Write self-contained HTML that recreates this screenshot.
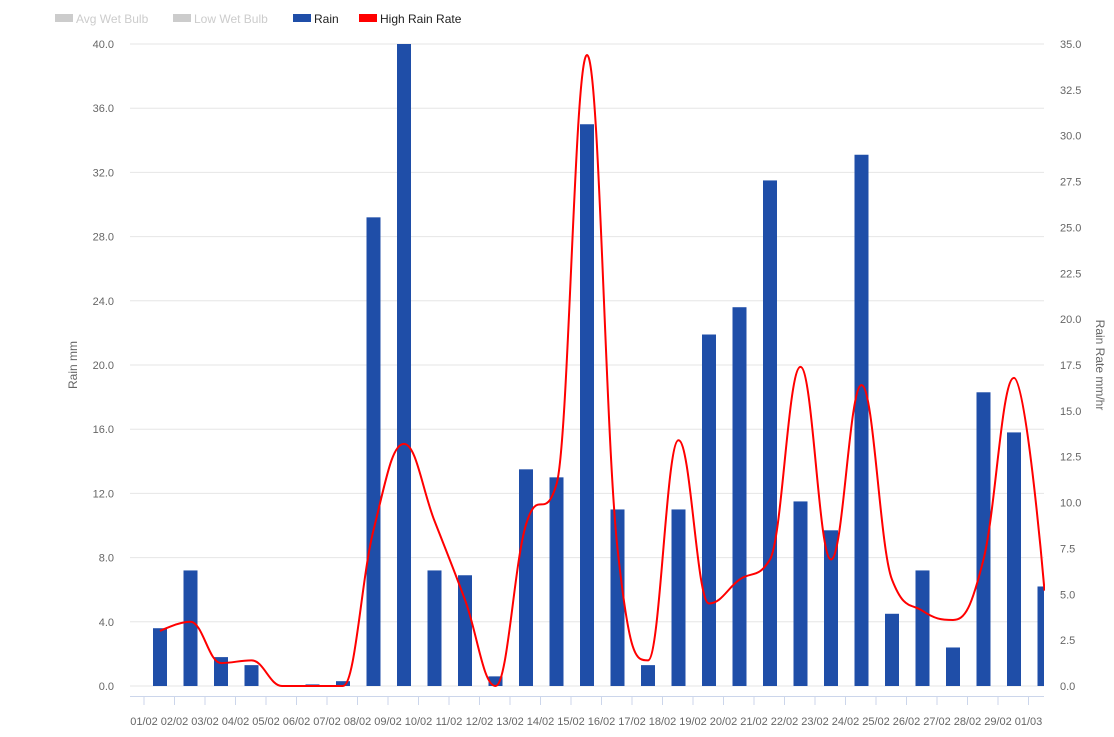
<!DOCTYPE html>
<html><head><meta charset="utf-8"><style>
body{margin:0;background:#fff;font-family:"Liberation Sans",sans-serif}
svg text{font-family:"Liberation Sans",sans-serif}
</style></head><body>
<svg id="c" width="1114" height="732" xmlns="http://www.w3.org/2000/svg">
<g font-size="12">
<g><rect x="55" y="14" width="18" height="8" fill="#ccc"/><text x="76" y="23" fill="#ccc">Avg Wet Bulb</text></g>
<g><rect x="173" y="14" width="18" height="8" fill="#ccc"/><text x="194" y="23" fill="#ccc">Low Wet Bulb</text></g>
<g><rect x="293" y="14" width="18" height="8" fill="#1f4ea8"/><text x="314" y="23" fill="#222">Rain</text></g>
<g><rect x="359" y="14" width="18" height="8" fill="#ff0000"/><text x="380" y="23" fill="#222">High Rain Rate</text></g>
</g>
<g id="grid"></g><g id="bars"></g><g id="line"></g><g id="axes"></g>
<text transform="translate(77,365) rotate(-90)" text-anchor="middle" font-size="12" fill="#666">Rain mm</text>
<text transform="translate(1096,365) rotate(90)" text-anchor="middle" font-size="12" fill="#666">Rain Rate mm/hr</text>
</svg>
<script>
const categories=["01/02","02/02","03/02","04/02","05/02","06/02","07/02","08/02","09/02","10/02","11/02","12/02","13/02","14/02","15/02","16/02","17/02","18/02","19/02","20/02","21/02","22/02","23/02","24/02","25/02","26/02","27/02","28/02","29/02","01/03"];
const rain=[3.6,7.2,1.8,1.3,0,0.1,0.3,29.2,40.0,7.2,6.9,0.6,13.5,13.0,35.0,11.0,1.3,11.0,21.9,23.6,31.5,11.5,9.7,33.1,4.5,7.2,2.4,18.3,15.8,6.2];
const rainRate=[3.0,3.5,1.25,1.4,0,0,0,8.5,13.2,9.0,4.7,0,8.8,11.0,34.4,7.5,1.4,13.4,4.5,5.8,6.9,17.4,6.9,16.4,5.8,4.1,3.6,6.9,16.8,5.2];
const leftTicks=[0,4,8,12,16,20,24,28,32,36,40];
const rightTicks=[0,2.5,5,7.5,10,12.5,15,17.5,20,22.5,25,27.5,30,32.5,35];
const NS="http://www.w3.org/2000/svg";
const X0=130,X1=1044,Y0=686,Y1=44,step=30.5;
const yL=v=>Y0-(v/40)*(Y0-Y1);
const yR=v=>Y0-(v/35)*(Y0-Y1);
const xBar=i=>160+i*step;
const xTick=i=>144+i*step;
function mk(t,a,p){const e=document.createElementNS(NS,t);for(const k in a)e.setAttribute(k,a[k]);p.appendChild(e);return e;}
const grid=document.getElementById('grid'),axes=document.getElementById('axes');
leftTicks.forEach(v=>{
 const l=mk('line',{x1:X0,x2:X1,y1:yL(v),y2:yL(v),stroke:'#e6e6e6'},grid);
 
 
 const t=mk('text',{x:114,y:yL(v)+4,'text-anchor':'end','font-size':11,fill:'#666'},axes);
 t.textContent=v.toFixed(1);
 
 
});
rightTicks.forEach(v=>{
 const t=mk('text',{x:1060,y:yR(v)+4,'font-size':11,fill:'#666'},axes);
 t.textContent=v.toFixed(1);
 
 
});
const ax=mk('line',{x1:X0,x2:X1,y1:696.5,y2:696.5,stroke:'#ccd6eb'},axes);


categories.forEach((c,i)=>{
 const tk=mk('line',{x1:xTick(i),x2:xTick(i),y1:697,y2:705,stroke:'#ccd6eb'},axes);
 
 
 const t=mk('text',{x:xTick(i),y:725,'text-anchor':'middle','font-size':11,fill:'#666'},axes);
 t.textContent=c;
 
 
});
const bars=document.getElementById('bars');
rain.forEach((v,i)=>{
 const x=xBar(i)-7,w=Math.min(14,X1-x);
 if(w<=0)return;
 const r=mk('rect',{x:x,y:yL(v),width:w,height:Y0-yL(v),fill:'#1f4ea8'},bars);
 
 
});
// Highcharts-like spline
const pts=rainRate.map((v,i)=>[xBar(i),yR(v)]);
let d='M'+pts[0][0]+','+pts[0][1];
const sm=1.5,den=sm+1;
function ctrl(i){
 const p=pts[i],a=pts[i-1],b=pts[i+1];
 if(!a||!b)return [p,p];
 let lx=(sm*p[0]+a[0])/den,ly=(sm*p[1]+a[1])/den,rx=(sm*p[0]+b[0])/den,ry=(sm*p[1]+b[1])/den;
 if(rx!==lx){const c=(ry-ly)/(rx-lx);ly=(lx-p[0])*c+p[1];ry=(rx-p[0])*c+p[1];}
 if(ly>Math.max(a[1],p[1])||ly<Math.min(a[1],p[1])){ly=Math.max(Math.min(ly,Math.max(a[1],p[1])),Math.min(a[1],p[1]));ry=2*p[1]-ly;}
 if(ry>Math.max(b[1],p[1])||ry<Math.min(b[1],p[1])){ry=Math.max(Math.min(ry,Math.max(b[1],p[1])),Math.min(b[1],p[1]));ly=2*p[1]-ry;}
 return [[lx,ly],[rx,ry]];
}
for(let i=1;i<pts.length;i++){
 const c1=ctrl(i-1)[1],c2=ctrl(i)[0];
 d+=` C${c1[0]},${c1[1]} ${c2[0]},${c2[1]} ${pts[i][0]},${pts[i][1]}`;
}
mk('clipPath',{id:'clp'},document.getElementById('c'));
mk('rect',{x:X0,y:0,width:X1-X0+1,height:700},document.getElementById('clp'));
const ln=mk('path',{d:d,fill:'none',stroke:'#ff0000','stroke-width':2,'clip-path':'url(#clp)'},document.getElementById('line'));


</script>
</body></html>
